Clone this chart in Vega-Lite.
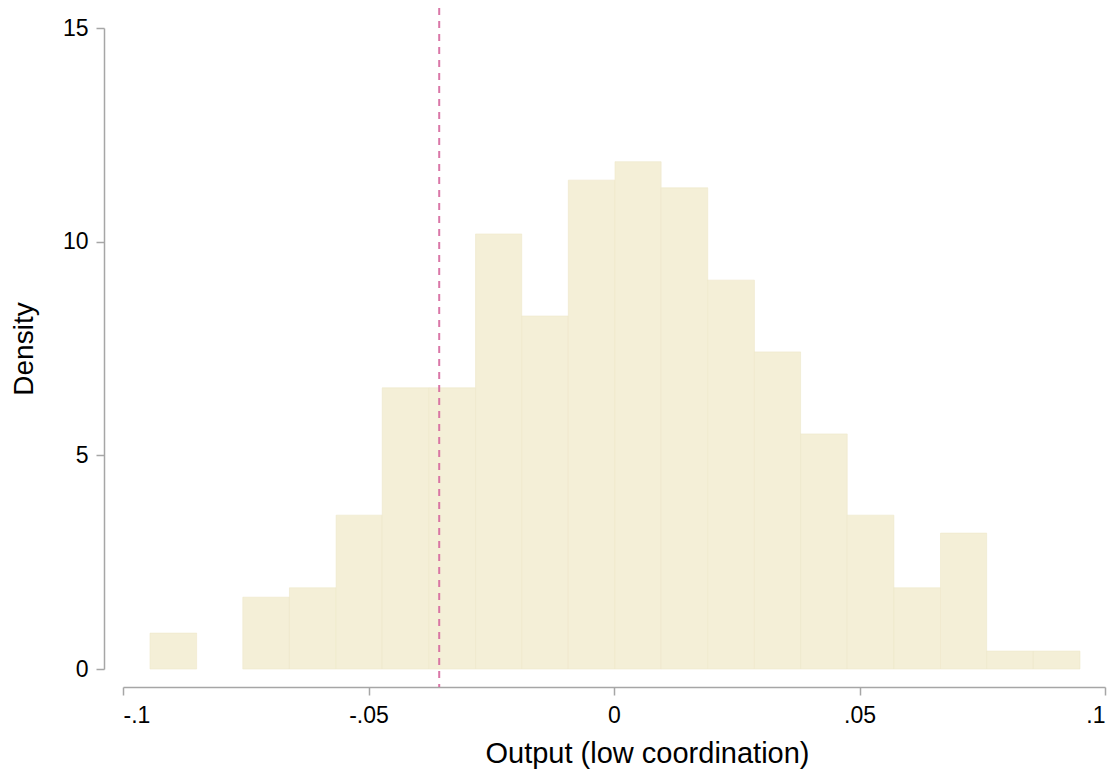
{
  "$schema": "https://vega.github.io/schema/vega-lite/v6.json",
  "width": 982,
  "height": 641,
  "autosize": "none",
  "padding": {"left": 123, "top": 28, "right": 10, "bottom": 108},
  "background": "white",
  "config": {
    "view": {"stroke": null},
    "font": "Liberation Sans",
    "axis": {
      "grid": false,
      "domainColor": "#a6a6a6",
      "domainWidth": 1.5,
      "tickColor": "#a6a6a6",
      "tickWidth": 1.5,
      "tickSize": 8,
      "labelFont": "Liberation Sans",
      "labelFontSize": 23,
      "labelColor": "black",
      "titleFont": "Liberation Sans",
      "titleFontSize": 28,
      "titleFontWeight": "normal",
      "titleColor": "black"
    }
  },
  "datasets": {
    "bins": [
      {"bin_start": -0.0945, "bin_end": -0.0850, "density": 0.84},
      {"bin_start": -0.0756, "bin_end": -0.0661, "density": 1.68},
      {"bin_start": -0.0661, "bin_end": -0.0566, "density": 1.90},
      {"bin_start": -0.0566, "bin_end": -0.0472, "density": 3.60},
      {"bin_start": -0.0472, "bin_end": -0.0377, "density": 6.58},
      {"bin_start": -0.0377, "bin_end": -0.0282, "density": 6.58},
      {"bin_start": -0.0282, "bin_end": -0.0188, "density": 10.18},
      {"bin_start": -0.0188, "bin_end": -0.0093, "density": 8.26},
      {"bin_start": -0.0093, "bin_end": 0.0002, "density": 11.44},
      {"bin_start": 0.0002, "bin_end": 0.0096, "density": 11.87},
      {"bin_start": 0.0096, "bin_end": 0.0191, "density": 11.26},
      {"bin_start": 0.0191, "bin_end": 0.0286, "density": 9.10},
      {"bin_start": 0.0286, "bin_end": 0.0380, "density": 7.42},
      {"bin_start": 0.0380, "bin_end": 0.0475, "density": 5.50},
      {"bin_start": 0.0475, "bin_end": 0.0570, "density": 3.60},
      {"bin_start": 0.0570, "bin_end": 0.0665, "density": 1.90},
      {"bin_start": 0.0665, "bin_end": 0.0759, "density": 3.18},
      {"bin_start": 0.0759, "bin_end": 0.0854, "density": 0.42},
      {"bin_start": 0.0854, "bin_end": 0.0949, "density": 0.42}
    ],
    "ref": [{"xline": -0.0356, "top": 15.47, "bottom": -0.42}]
  },
  "layer": [
    {
      "data": {"name": "bins"},
      "mark": {"type": "bar", "fill": "#f4efd7", "stroke": "#efe8c9", "strokeWidth": 0.6, "cornerRadius": 0},
      "encoding": {
        "x": {
          "field": "bin_start", "type": "quantitative",
          "scale": {"domain": [-0.1, 0.1], "nice": false, "zero": false},
          "axis": {
            "values": [-0.1, -0.05, 0, 0.05, 0.1],
            "labelExpr": "datum.value == 0 ? '0' : (datum.value < 0 ? '-' : '') + replace(format(abs(datum.value), '.2~f'), '0.', '.')",
            "offset": 18,
            "labelPadding": 9,
            "title": "Output (low coordination)",
            "titleFontSize": 29,
            "titleX": 524,
            "titlePadding": 12
          }
        },
        "x2": {"field": "bin_end"},
        "y": {
          "field": "density", "type": "quantitative",
          "scale": {"domain": [0, 15], "nice": false},
          "axis": {
            "values": [0, 5, 10, 15],
            "offset": 19,
            "labelPadding": 8,
            "title": "Density",
            "titlePadding": 24
          }
        },
        "y2": {"datum": 0}
      }
    },
    {
      "data": {"name": "ref"},
      "mark": {"type": "rule", "color": "#d6689f", "strokeWidth": 2, "strokeDash": [7, 6], "opacity": 0.9, "clip": false},
      "encoding": {
        "x": {"field": "xline", "type": "quantitative"},
        "y": {"field": "top", "type": "quantitative"},
        "y2": {"field": "bottom"}
      }
    }
  ]
}
